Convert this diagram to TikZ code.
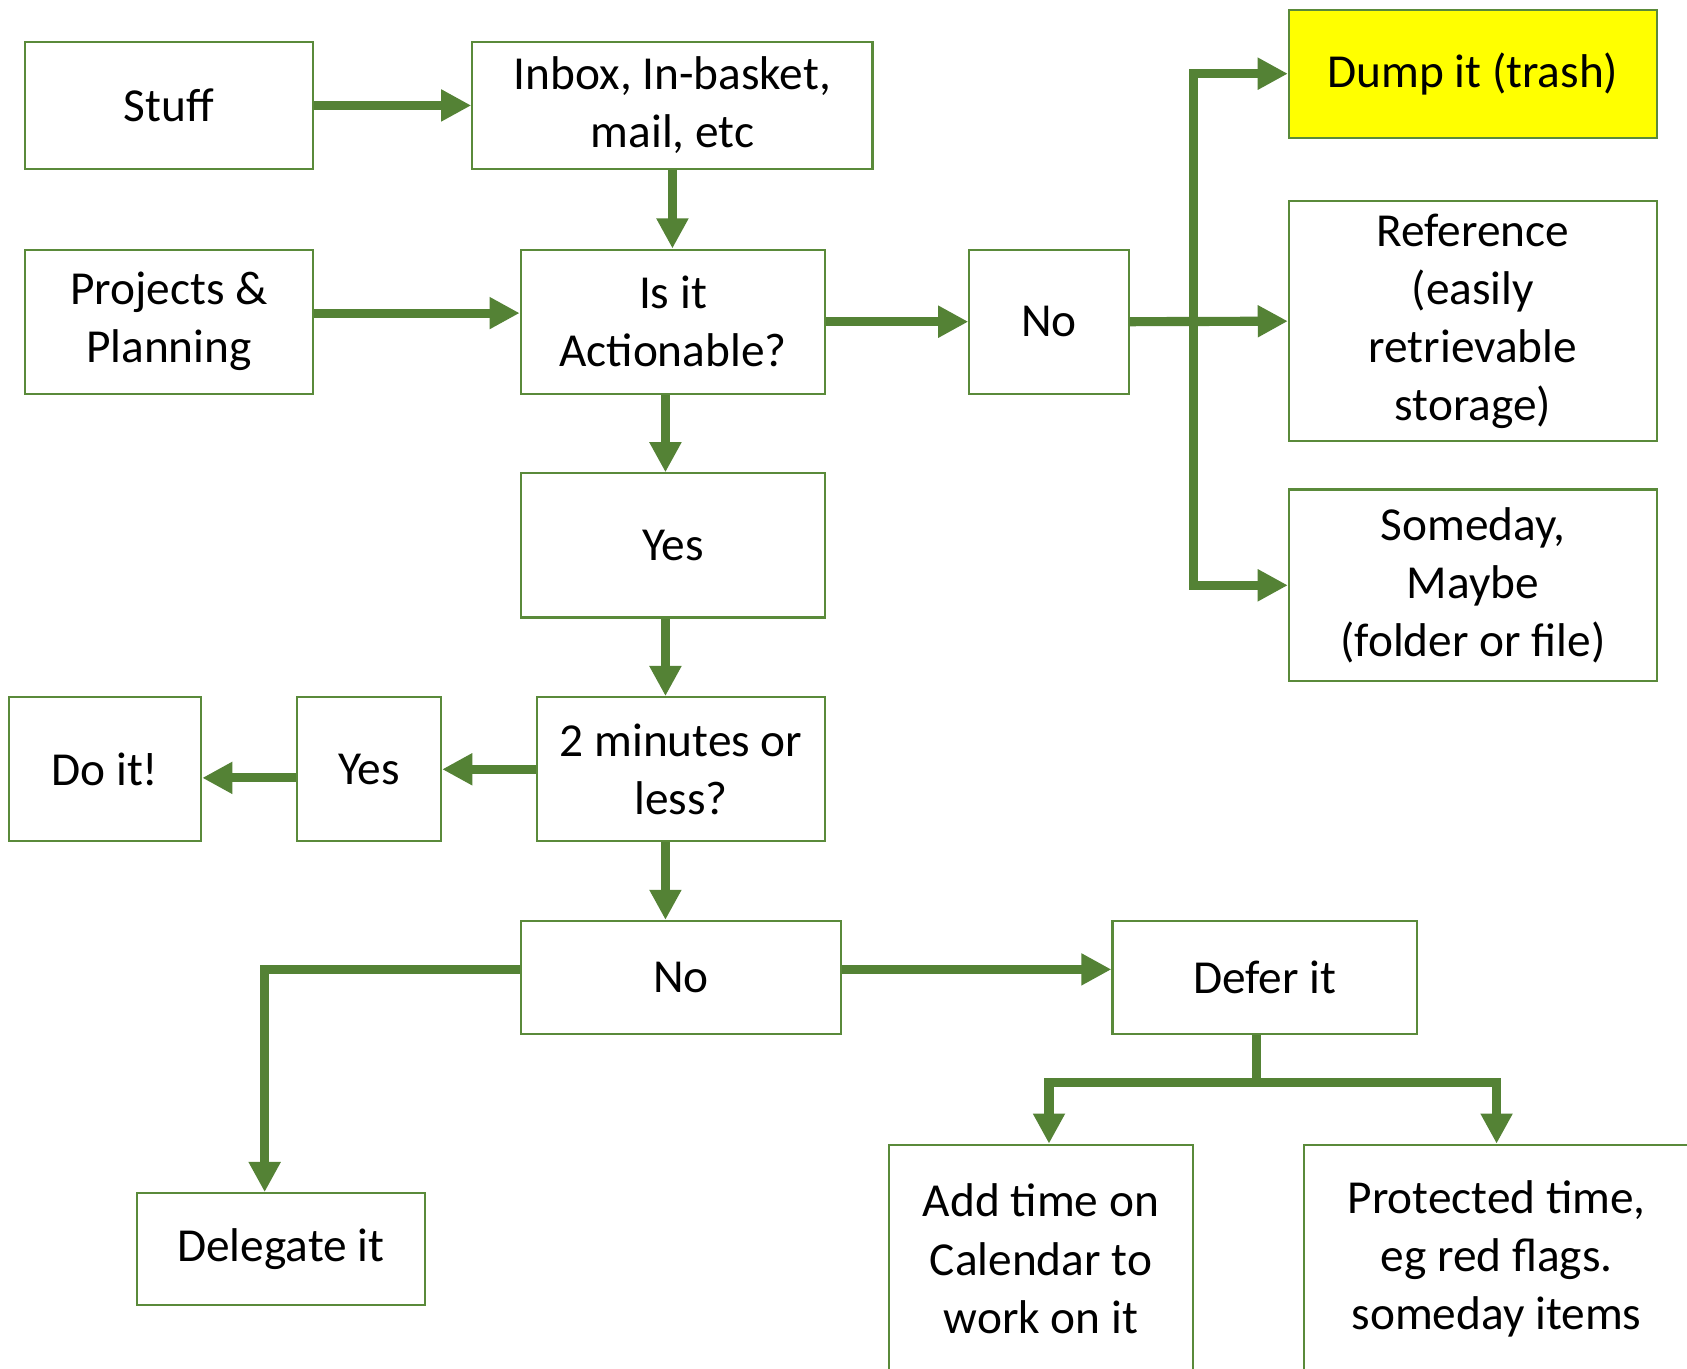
\documentclass[tikz,border=0pt]{standalone}
\usepackage{fontspec}
\setmainfont{Carlito}
\usetikzlibrary{arrows.meta,calc}
\definecolor{lgreen}{HTML}{548235}
\definecolor{bgreen}{HTML}{5A8A3A}
\definecolor{dumpyellow}{HTML}{FFFF00}
\tikzset{
  box/.style={draw=bgreen, line width=2pt, inner sep=0pt, align=center,
    font=\fontsize{44}{54}\selectfont, text=black},
  arr/.style={draw=lgreen, line width=8.5pt, line join=miter,
    -{Triangle[length=28pt,width=28pt]}},
}
\begin{document}
\begin{tikzpicture}[x=1pt,y=-1pt]
\useasboundingbox (0,0) rectangle (1568,1272);
\clip (0,0) rectangle (1568,1272);
\fill[white] (0,0) rectangle (1568,1272);
% nodes
\node[box, minimum width=268pt, minimum height=118pt] (stuff) at (157,98) {Stuff};
\node[box, minimum width=372pt, minimum height=118pt] (inbox) at (625,98) {Inbox, In-basket,\\mail, etc};
\node[box, minimum width=268pt, minimum height=134pt] (proj) at (157,299) {Projects \&\\Planning};
\node[box, minimum width=283pt, minimum height=134pt] (isit) at (625.5,299) {Is it\\Actionable?};
\node[box, minimum width=148pt, minimum height=134pt] (notop) at (975,299) {No};
\node[box, fill=dumpyellow, minimum width=342pt, minimum height=119pt] (dump) at (1369,68.5) {Dump it (trash)};
\node[box, minimum width=342pt, minimum height=223pt] (ref) at (1369,298.5) {Reference\\(easily\\retrievable\\storage)};
\node[box, minimum width=342pt, minimum height=178pt] (some) at (1369,544) {Someday,\\Maybe\\(folder or file)};
\node[box, minimum width=283pt, minimum height=134pt] (yes) at (625.5,507) {Yes};
\node[box, minimum width=268pt, minimum height=134pt] (two) at (633,715) {2 minutes or\\less?};
\node[box, minimum width=134pt, minimum height=134pt] (yesl) at (343,715) {Yes};
\node[box, minimum width=179pt, minimum height=134pt] (doit) at (97.5,715) {Do it!};
\node[box, minimum width=298pt, minimum height=105pt] (nobot) at (633,908.5) {No};
\node[box, minimum width=283pt, minimum height=105pt] (defer) at (1175.5,908.5) {Defer it};
\node[box, minimum width=268pt, minimum height=104pt] (deleg) at (261,1161) {Delegate it};
\node[box, minimum width=283pt, minimum height=212pt] (addt) at (967.5,1170) {Add time on\\Calendar to\\work on it};
\node[box, minimum width=358pt, minimum height=212pt] (prot) at (1391,1170) {Protected time,\\eg red flags.\\someday items};
% helper coordinates
\coordinate (colx) at ([xshift=-7pt]isit.south);
\coordinate (tj) at ($(notop.east)+(59,0)$);
\coordinate (dj) at ([xshift=-7.5pt]defer.south);
\coordinate (br) at ($(dj)+(0,44)$);
% connectors
\draw[arr] (stuff.east) -- (inbox.west);
\draw[arr] (inbox.south) -- (inbox.south |- isit.north);
\draw[arr] ([yshift=8pt]proj.east) -- ([yshift=8pt]isit.west);
\draw[arr] (isit.east) -- (notop.west);
\draw[arr] (notop.east) -- (ref.west);
\draw[arr] (tj) |- (dump.west);
\draw[arr] (tj) |- (some.west);
\draw[arr] (colx) -- (colx |- yes.north);
\draw[arr] (colx |- yes.south) -- (colx |- two.north);
\draw[arr] (two.west) -- (yesl.east);
\draw[arr] ([yshift=-8pt]yesl.west) -- ([yshift=-8pt]doit.east);
\draw[arr] (colx |- two.south) -- (colx |- nobot.north);
\draw[arr] ([yshift=7.5pt]nobot.east) -- ([yshift=7.5pt]defer.west);
\draw[arr] ([yshift=7.5pt]nobot.west) -| ([xshift=-15pt]deleg.north);
\draw[arr] (dj) -- (br) -| ([xshift=7.5pt]addt.north);
\draw[arr] (br) -| (prot.north);
\end{tikzpicture}
\end{document}
